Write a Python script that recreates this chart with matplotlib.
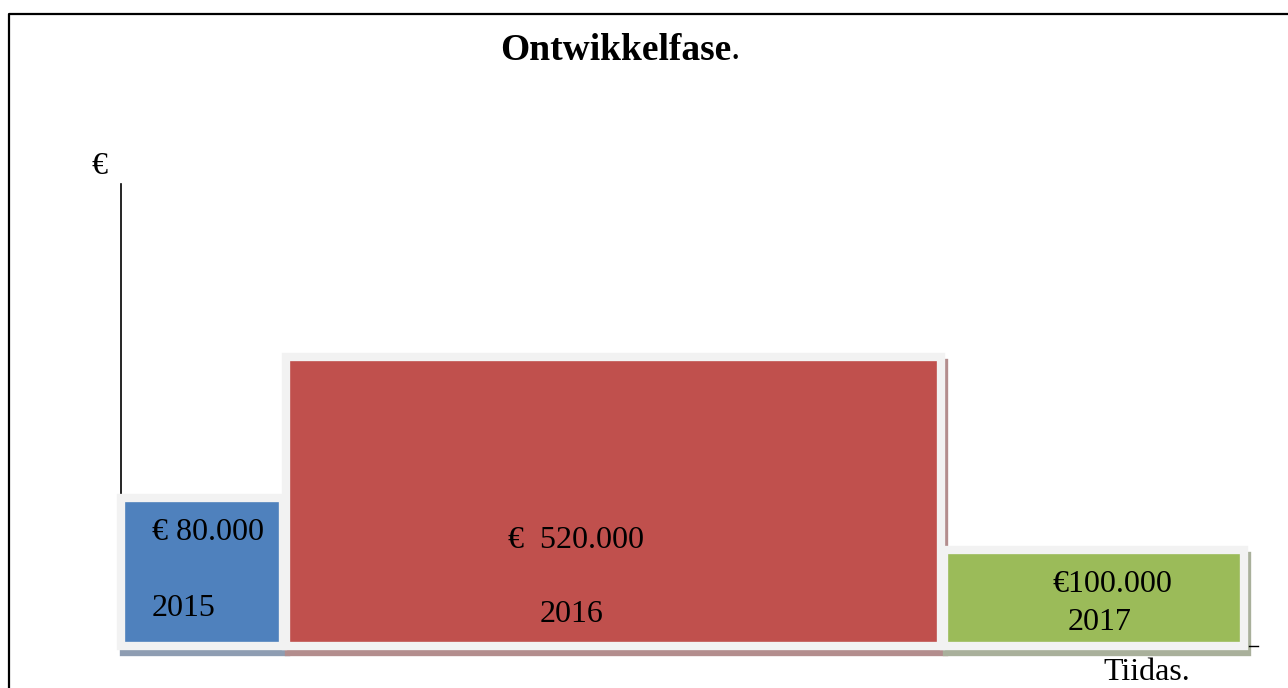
import matplotlib.pyplot as plt

# data (heights in picture units, the chart is a drawing, not to scale)
years = ['2015', '2016', '2017']
value_labels = ['€ 80.000', '€  520.000', '€100.000']
bar_left = [121, 286, 944]
bar_width = [162, 655, 300]
bar_height = [148, 289, 96]

colors = ['#4f81bd', '#c0504d', '#9bbb59']
shadow_colors = ['#8e9db2', '#b38d8d', '#a9b09b']

plt.rcParams['font.family'] = ['Liberation Serif', 'DejaVu Serif']

fig = plt.figure(figsize=(12.88, 6.88), dpi=100)
ax = fig.add_axes([0, 0, 1, 1])
# y data 0 sits at pixel row 646
ax.set_xlim(0, 1288)
ax.set_ylim(646 - 688, 646)
ax.axis('off')

# frame
ax.plot([9, 9, 1290], [-50, 632, 632], color='black', lw=1.6, clip_on=False)

# y axis line
ax.plot([121, 121], [150, 462], color='black', lw=1.2)
# tick at end of x axis
ax.plot([1249, 1258], [0, 0], color='black', lw=1.0)

# shadows
ax.bar([x + 3 for x in bar_left], bar_height, width=bar_width, bottom=-6, align='edge',
       color=shadow_colors, edgecolor=shadow_colors, linewidth=6, zorder=1)
# bars with light grey border
ax.bar(bar_left, bar_height, width=bar_width, align='edge',
       color=colors, edgecolor='#f2f2f2', linewidth=6, zorder=2)

# labels
ax.text(208, 646 - 533, value_labels[0], fontsize=23, ha='center', va='center', zorder=3)
ax.text(152, 646 - 608, years[0], fontsize=23, ha='left', va='center', zorder=3)
ax.text(576, 646 - 541, value_labels[1], fontsize=23, ha='center', va='center', zorder=3)
ax.text(572, 646 - 615, years[1], fontsize=23, ha='center', va='center', zorder=3)
ax.text(1112, 646 - 585, value_labels[2], fontsize=23, ha='center', va='center', zorder=3)
ax.text(1100, 646 - 623, years[2], fontsize=23, ha='center', va='center', zorder=3)

ax.text(100, 646 - 166, '€', fontsize=23, ha='center', va='center')
ax.text(1103, 646 - 672, 'Tiidas.', fontsize=23, ha='left', va='center')

# title: bold word followed by a plain full stop
ax.text(731, 646 - 50, 'Ontwikkelfase', fontsize=27, fontweight='bold', ha='right', va='center')
ax.text(731, 646 - 50, '.', fontsize=27, ha='left', va='center')

fig.savefig('out.png', dpi=100)
